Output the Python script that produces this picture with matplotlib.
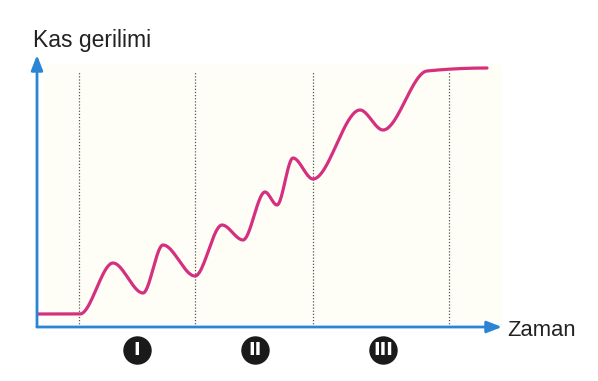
import numpy as np
import matplotlib.pyplot as plt

# okunan noktalar (zaman, kas gerilimi): baslangic, tepe ve cukurlar
zaman = [0, 43, 76, 106, 126, 158, 185, 206, 228, 240, 256, 276, 323, 346, 390, 450]
gerilim = [13, 13, 64, 34, 82, 51, 102, 87, 135, 122, 169, 148, 217, 197, 256, 259]

bolum_cizgileri = [42, 158, 276, 412]
bolum_merkez = [100, 218, 346]
bolum_adi = ['I', 'II', 'III']

mavi = '#2a86d4'
pembe = '#d4307f'


def pchip(x, y, n=40):
    # sadece cizim icin noktalar arasini yumusat (Fritsch-Carlson)
    x = np.asarray(x, float)
    y = np.asarray(y, float)
    h = np.diff(x)
    d = np.diff(y) / h
    m = np.zeros_like(y)
    for k in range(1, len(x) - 1):
        if d[k - 1] * d[k] > 0:
            w1 = 2 * h[k] + h[k - 1]
            w2 = h[k] + 2 * h[k - 1]
            m[k] = (w1 + w2) / (w1 / d[k - 1] + w2 / d[k])
    xs, ys = [], []
    t = np.linspace(0, 1, n, endpoint=False)
    for k in range(len(x) - 1):
        h00 = 2 * t ** 3 - 3 * t ** 2 + 1
        h10 = t ** 3 - 2 * t ** 2 + t
        h01 = -2 * t ** 3 + 3 * t ** 2
        h11 = t ** 3 - t ** 2
        xs.extend(x[k] + t * h[k])
        ys.extend(h00 * y[k] + h10 * h[k] * m[k] + h01 * y[k + 1] + h11 * h[k] * m[k + 1])
    xs.append(x[-1])
    ys.append(y[-1])
    return np.array(xs), np.array(ys)


plt.rcParams['font.family'] = ['Liberation Sans', 'DejaVu Sans']

fig = plt.figure(figsize=(5.98, 3.81), dpi=100)
ax = fig.add_axes([37 / 598, 54 / 381, 465 / 598, 272 / 381])
ax.set_xlim(0, 465)
ax.set_ylim(0, 272)
ax.axis('off')

# cok hafif sari zemin
ax.axhspan(8, 262, xmin=8 / 465, xmax=1, color='#fffef6', zorder=0)

for x in bolum_cizgileri:
    ax.plot([x, x], [0, 255], color='#555555', lw=0.9, ls=(0, (1, 1.5)), zorder=1)

cx, cy = pchip(zaman, gerilim)
ax.plot(cx, cy, color=pembe, lw=2.3, solid_capstyle='round', zorder=3)

ok = dict(arrowstyle='-|>,head_length=0.9,head_width=0.35', color=mavi, lw=2,
          shrinkA=0, shrinkB=0)
ax.annotate('', xy=(465, 0), xytext=(0, 0), arrowprops=ok, annotation_clip=False)
ax.annotate('', xy=(0, 272), xytext=(0, 0), arrowprops=ok, annotation_clip=False)

ax.scatter(bolum_merkez, [-23] * 3, s=27 ** 2 * 0.52, color='#1a1a1a', clip_on=False, zorder=4)
for x, ad in zip(bolum_merkez, bolum_adi):
    ax.text(x, -23, ad, color='white', fontsize=13, fontweight='bold',
            ha='center', va='center', family='DejaVu Sans', clip_on=False, zorder=5)

fig.text(33 / 598, 1 - 47 / 381, 'Kas gerilimi', fontsize=16.5, color='#222222',
         ha='left', va='baseline')
fig.text(507 / 598, 1 - 336 / 381, 'Zaman', fontsize=15.8, color='#222222',
         ha='left', va='baseline')

fig.savefig('out.png', dpi=100)
